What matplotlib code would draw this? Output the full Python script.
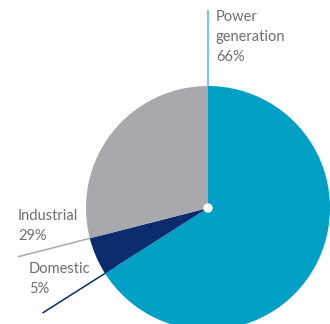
import numpy as np
import matplotlib.pyplot as plt

plt.rcParams['font.family'] = ['Lato', 'DejaVu Sans']

labels = ["Power\ngeneration", "Domestic", "Industrial"]
shares = [66, 5, 29]
colors = ["#00a0c6", "#0b2d6e", "#a7a9ac"]
line_colors = ["#4ab8d6", "#0b2d6e", "#a7a9ac"]
text_color = "#6d6e71"

W, H = 330, 324
fig = plt.figure(figsize=(W / 100, H / 100), dpi=100)
ax = fig.add_axes([0, 0, 1, 1])

cx, cy, r = 208, H - 208, 122
wedges, _ = ax.pie(shares, colors=colors, startangle=90, counterclock=False,
                   center=(cx, cy), radius=r, frame=True,
                   wedgeprops=dict(linewidth=0))
ax.set_xlim(0, W)
ax.set_ylim(0, H)
ax.set_aspect('equal')
ax.axis('off')

# leader lines run along the start edge of each wedge
lengths = [198, 196, 196]
for w, lc, L in zip(wedges, line_colors, lengths):
    a = np.deg2rad(w.theta2)
    ax.plot([cx + r * 0.9 * np.cos(a), cx + L * np.cos(a)],
            [cy + r * 0.9 * np.sin(a), cy + L * np.sin(a)],
            color=lc, lw=1.1, solid_capstyle='butt', zorder=0.5)
ax.add_patch(plt.Circle((cx, cy), 4, color='white', zorder=5))

text_pos = [(216, H - 10), (29, H - 262), (18, H - 209)]
for lab, s, (tx, ty) in zip(labels, shares, text_pos):
    ax.text(tx, ty, f"{lab}\n{s}%", ha='left', va='top', fontsize=10.5,
            color=text_color, linespacing=1.55)

fig.savefig("out.png", dpi=100)
